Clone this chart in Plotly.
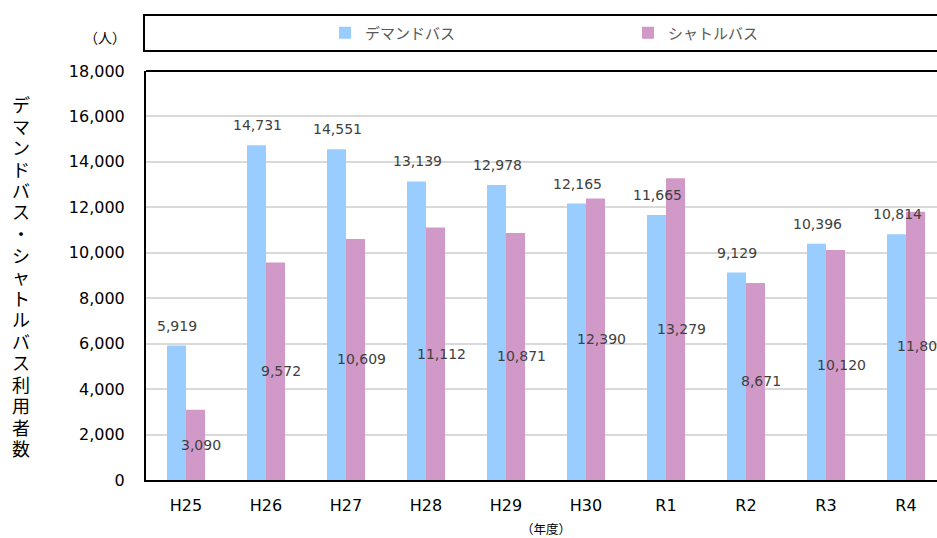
import plotly.graph_objects as go

# Fiscal years and ridership per year
years = ["H25", "H26", "H27", "H28", "H29", "H30", "R1", "R2", "R3", "R4"]
demand_bus = [5919, 14731, 14551, 13139, 12978, 12165, 11665, 9129, 10396, 10814]
shuttle_bus = [3090, 9572, 10609, 11112, 10871, 12390, 13279, 8671, 10120, 11802]
y_ticks = [0, 2000, 4000, 6000, 8000, 10000, 12000, 14000, 16000, 18000]

BLUE = "#99CCFF"
PINK = "#D199C7"
FONT = "DejaVu Sans, Noto Sans CJK JP, sans-serif"
JP_FONT = "Noto Sans CJK JP, sans-serif"

W, H = 937, 538
L, R, T, B = 146, 0, 71, 58
plot_w = W - L - R
plot_h = H - T - B
band = 80.0  # pixel width of one category slot


def px_x(px):
    return (px - L) / plot_w


def px_y(py):
    return (H - B - py) / plot_h


fig = go.Figure()
fig.add_trace(go.Bar(name="デマンドバス", x=years, y=demand_bus,
                     marker=dict(color=BLUE, line=dict(width=0))))
fig.add_trace(go.Bar(name="シャトルバス", x=years, y=shuttle_bus,
                     marker=dict(color=PINK, line=dict(width=0))))

annotations = []
# value labels: demand above its bar, shuttle in the middle of its bar
for yr, d, s in zip(years, demand_bus, shuttle_bus):
    annotations.append(dict(x=yr, y=d, xref="x", yref="y", text=f"{d:,}",
                            showarrow=False, xshift=-9, yshift=20,
                            xanchor="center", yanchor="middle",
                            font=dict(family=FONT, size=14, color="#404040")))
    annotations.append(dict(x=yr, y=s / 2, xref="x", yref="y", text=f"{s:,}",
                            showarrow=False, xshift=15,
                            xanchor="center", yanchor="middle",
                            font=dict(family=FONT, size=14, color="#404040")))

# vertical axis title, characters stacked upright one below another
title_chars = "デマンドバス・シャトルバス利用者数"
for i, ch in enumerate(title_chars):
    annotations.append(dict(x=px_x(21), y=px_y(104 + i * 21.5), xref="paper", yref="paper",
                            text=ch, showarrow=False,
                            xanchor="center", yanchor="middle",
                            font=dict(family=JP_FONT, size=18, color="#000000")))

annotations.append(dict(x=px_x(105), y=px_y(37), xref="paper", yref="paper",
                        text="（人）", showarrow=False,
                        xanchor="center", yanchor="middle",
                        font=dict(family=JP_FONT, size=14, color="#000000")))
annotations.append(dict(x=px_x(546), y=px_y(528), xref="paper", yref="paper",
                        text="（年度）", showarrow=False,
                        xanchor="center", yanchor="middle",
                        font=dict(family=JP_FONT, size=12.5, color="#000000")))

shapes = [
    # top border of the plot area
    dict(type="line", xref="paper", yref="paper", x0=0, x1=1.01, y0=1, y1=1,
         line=dict(color="#000000", width=2)),
    # legend frame
    dict(type="rect", xref="paper", yref="paper", x0=px_x(144), x1=1.01,
         y0=px_y(51), y1=px_y(15), line=dict(color="#000000", width=2)),
]

fig.update_layout(
    width=W, height=H,
    margin=dict(l=L, r=R, t=T, b=B, pad=0),
    paper_bgcolor="white", plot_bgcolor="white",
    barmode="group", bargap=0.525, bargroupgap=0,
    font=dict(family=FONT, color="#000000"),
    showlegend=True,
    legend=dict(orientation="h", x=px_x(325), xanchor="left",
                y=px_y(33), yanchor="middle",
                entrywidth=258, entrywidthmode="pixels",
                font=dict(family=JP_FONT, size=15, color="#595959"),
                bgcolor="rgba(0,0,0,0)", traceorder="normal"),
    xaxis=dict(type="category", range=[-0.5, -0.5 + plot_w / band],
               showline=True, linecolor="#000000", linewidth=2,
               ticks="", showgrid=False, ticklabelstandoff=10,
               tickfont=dict(family=FONT, size=16, color="#000000")),
    yaxis=dict(range=[0, 18000], tickvals=y_ticks, tickformat=",",
               showline=True, linecolor="#000000", linewidth=2,
               showgrid=True, gridcolor="#D9D9D9", gridwidth=1.5,
               zeroline=False, ticks="", ticklabelstandoff=16,
               tickfont=dict(family=FONT, size=16, color="#000000")),
    annotations=annotations,
    shapes=shapes,
)

fig.write_html("out.html")
